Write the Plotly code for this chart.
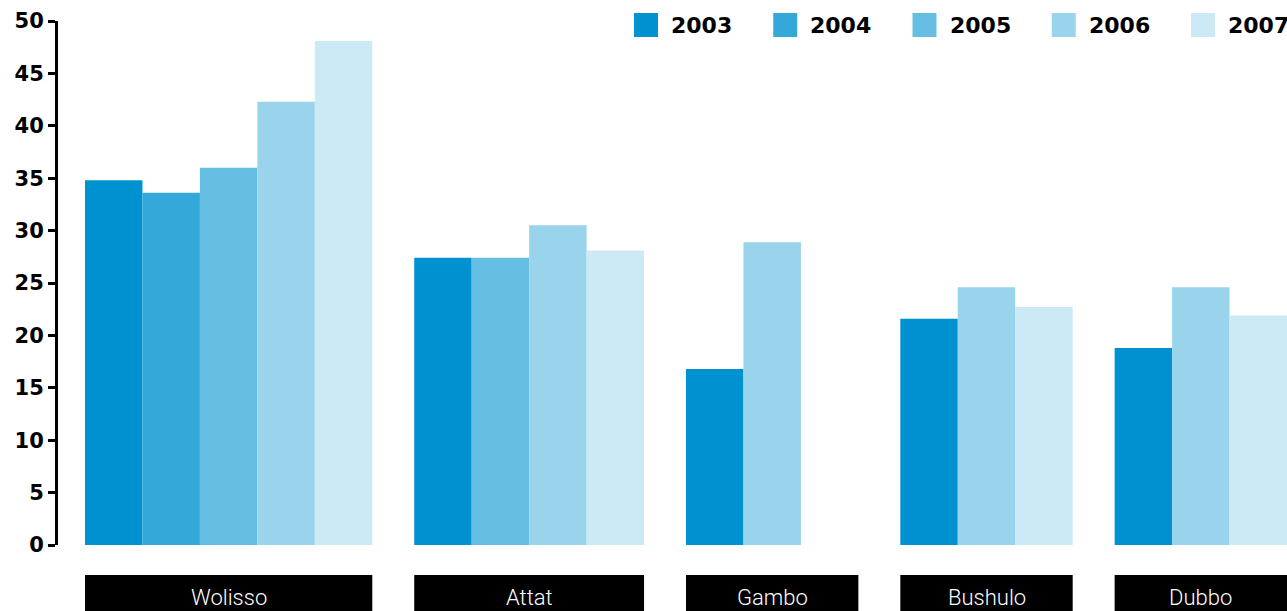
import plotly.graph_objects as go

groups = ["Wolisso", "Attat", "Gambo", "Bushulo", "Dubbo"]
years = ["2003", "2004", "2005", "2006", "2007"]
v2003 = [34.8, 27.4, 16.8, 21.6, 18.8]
v2004 = [33.6, None, None, None, None]
v2005 = [36.0, 27.4, None, None, None]
v2006 = [42.3, 30.5, 28.9, 24.6, 24.6]
v2007 = [48.1, 28.1, 0.0, 22.7, 21.9]
series = [v2003, v2004, v2005, v2006, v2007]
colors = ["#0092D0", "#33A8D9", "#66BEE3", "#99D3EC", "#CCE9F6"]
y_ticks = list(range(0, 51, 5))

GAP = 0.73  # gap between groups, in slot widths

# compute slot positions for each group (missing years are compacted)
starts, slots = [], []
pos = 0.0
for gi, g in enumerate(groups):
    n = sum(1 for s in series if s[gi] is not None)
    starts.append(pos)
    slots.append(n)
    pos += n + GAP
x_end = pos - GAP

xs = {y: [] for y in years}
vals = {y: [] for y in years}
for gi in range(len(groups)):
    k = 0
    for yi, s in enumerate(series):
        if s[gi] is not None:
            xs[years[yi]].append(starts[gi] + k + 0.5)
            vals[years[yi]].append(s[gi])
            k += 1

fig = go.Figure()
for yi, yr in enumerate(years):
    fig.add_trace(go.Bar(
        x=xs[yr], y=vals[yr], width=1.0, name=yr,
        marker=dict(color=colors[yi], line=dict(width=0)),
        showlegend=False,
    ))

W, H = 1287, 611
ml, mr, mt, mb = 58, 0, 21, 66
pw, ph = W - ml - mr, H - mt - mb

def px_x(p):
    return (p - ml) / pw

def px_y(p):
    return (H - mb - p) / ph

shapes, annotations = [], []
# category boxes
for gi, g in enumerate(groups):
    shapes.append(dict(type="rect", xref="x", yref="paper",
                       x0=starts[gi], x1=starts[gi] + max(slots[gi], 1),
                       y0=px_y(575), y1=px_y(640),
                       fillcolor="black", line=dict(width=0), layer="above"))
    annotations.append(dict(xref="x", yref="paper",
                            x=starts[gi] + slots[gi] / 2, y=px_y(597),
                            text=g, showarrow=False, xanchor="center", yanchor="middle",
                            font=dict(family="Roboto", size=22, weight=300, color="white")))
# legend
step = 139.25
for yi, yr in enumerate(years):
    x0 = 634 + yi * step
    shapes.append(dict(type="rect", xref="paper", yref="paper",
                       x0=px_x(x0), x1=px_x(x0 + 24), y0=px_y(37), y1=px_y(13),
                       fillcolor=colors[yi], line=dict(width=0)))
    annotations.append(dict(xref="paper", yref="paper",
                            x=px_x(x0 + 35), y=px_y(25), text="<b>" + yr + "</b>",
                            showarrow=False, xanchor="left", yanchor="middle",
                            font=dict(family="DejaVu Sans", size=22, color="black")))

fig.update_layout(
    width=W, height=H, autosize=False,
    margin=dict(l=ml, r=mr, t=mt, b=mb, pad=0),
    plot_bgcolor="white", paper_bgcolor="white",
    barmode="overlay",
    showlegend=False,
    shapes=shapes, annotations=annotations,
    xaxis=dict(range=[-0.47, x_end], visible=False, fixedrange=True),
    yaxis=dict(range=[0, 50], tickvals=y_ticks, ticktext=["<b>%d</b>" % t for t in y_ticks],
               showgrid=False, zeroline=False, showline=True, linecolor="black", linewidth=3,
               ticks="outside", ticklen=7, tickwidth=3, tickcolor="black",
               tickfont=dict(family="DejaVu Sans", size=21, color="black"),
               fixedrange=True),
)

fig.write_html("out.html")
